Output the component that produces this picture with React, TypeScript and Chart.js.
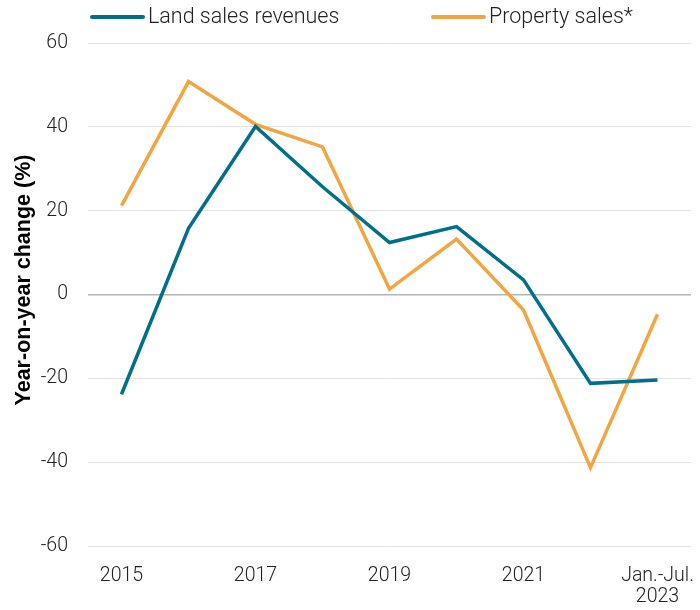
import React, { useEffect, useRef } from "react";
import { Chart, registerables } from "chart.js";

Chart.register(...registerables);

const categories: (string | string[])[] = [
  "2015", "2016", "2017", "2018", "2019", "2020", "2021", "2022", ["Jan.-Jul.", "2023"],
];
const landSalesRevenues = [-23.8, 15.8, 40.1, 25.7, 12.4, 16.2, 3.5, -21.2, -20.4];
const propertySales = [21.2, 50.8, 40.6, 35.2, 1.3, 13.2, -3.7, -41.3, -4.7];
const yTickValues = [-60, -40, -20, 0, 20, 40, 60];
const seriesLabels = ["Land sales revenues", "Property sales*"];
const yTitle = "Year-on-year change (%)";

const TEAL = "#00708a";
const ORANGE = "#f2a643";
const TICK_FONT = { family: "Roboto", size: 19.5, weight: "300" as any };

const legendPlugin = {
  id: "customLegend",
  afterDraw(chart: any) {
    const ctx = chart.ctx;
    const starts = [90, 431];
    ctx.save();
    ctx.font = "300 21.5px Roboto";
    ctx.textBaseline = "middle";
    ctx.textAlign = "left";
    chart.data.datasets.forEach((ds: any, i: number) => {
      const x = starts[i];
      const y = 17;
      ctx.strokeStyle = ds.borderColor;
      ctx.lineWidth = 4;
      ctx.lineCap = "round";
      ctx.beginPath();
      ctx.moveTo(x + 2, y);
      ctx.lineTo(x + 53, y);
      ctx.stroke();
      ctx.fillStyle = "#222";
      ctx.fillText(ds.label, x + 58, y + 1);
    });
    // y axis title
    ctx.translate(24, 280);
    ctx.rotate(-Math.PI / 2);
    ctx.font = "bold 21.5px 'Liberation Sans'";
    ctx.textAlign = "center";
    ctx.fillStyle = "#000";
    ctx.fillText(yTitle, 0, 0);
    ctx.restore();
  },
};

export default function App() {
  const ref = useRef<HTMLCanvasElement | null>(null);
  useEffect(() => {
    document.body.style.margin = "0";
    if (!ref.current) return;
    const chart = new Chart(ref.current, {
      type: "line",
      data: {
        labels: categories as any,
        datasets: [
          {
            label: seriesLabels[0],
            data: landSalesRevenues,
            borderColor: TEAL,
            backgroundColor: TEAL,
            borderWidth: 3.5,
            pointRadius: 0,
            tension: 0,
            fill: false,
          },
          {
            label: seriesLabels[1],
            data: propertySales,
            borderColor: ORANGE,
            backgroundColor: ORANGE,
            borderWidth: 3.5,
            pointRadius: 0,
            tension: 0,
            fill: false,
          },
        ],
      },
      options: {
        animation: false,
        responsive: true,
        maintainAspectRatio: false,
        layout: { padding: { top: 43, right: 9, left: 0, bottom: 0 } },
        plugins: {
          legend: { display: false },
          tooltip: { enabled: false },
        },
        scales: {
          x: {
            offset: true,
            grid: { display: false, drawTicks: false },
            border: { display: false },
            ticks: {
              autoSkip: false,
              maxRotation: 0,
              minRotation: 0,
              padding: 20,
              color: "#222",
              font: { ...TICK_FONT, lineHeight: 1.08 },
              callback: function (this: any, _v: any, index: number) {
                return index % 2 === 0 ? (categories[index] as any) : "";
              },
            },
            afterFit: (scale: any) => {
              scale.height = 64;
              scale.paddingLeft = 0;
              scale.paddingRight = 0;
            },
          },
          y: {
            min: -60,
            max: 60,
            afterBuildTicks: (axis: any) => {
              axis.ticks = yTickValues.map((v) => ({ value: v }));
            },
            afterFit: (scale: any) => {
              scale.width = 88;
            },
            grid: {
              drawTicks: false,
              color: (c: any) => (c.tick && c.tick.value === 0 ? "#b5b5b5" : "#e3e3e3"),
              lineWidth: (c: any) => (c.tick && c.tick.value === 0 ? 1.5 : 1),
            },
            border: { display: false },
            ticks: {
              padding: 20,
              color: "#222",
              font: TICK_FONT,
            },
            title: { display: false },
          },
        },
      },
      plugins: [legendPlugin],
    });
    return () => chart.destroy();
  }, []);
  return (
    <div style={{ width: 700, height: 610, position: "relative" }}>
      <canvas ref={ref} />
    </div>
  );
}
